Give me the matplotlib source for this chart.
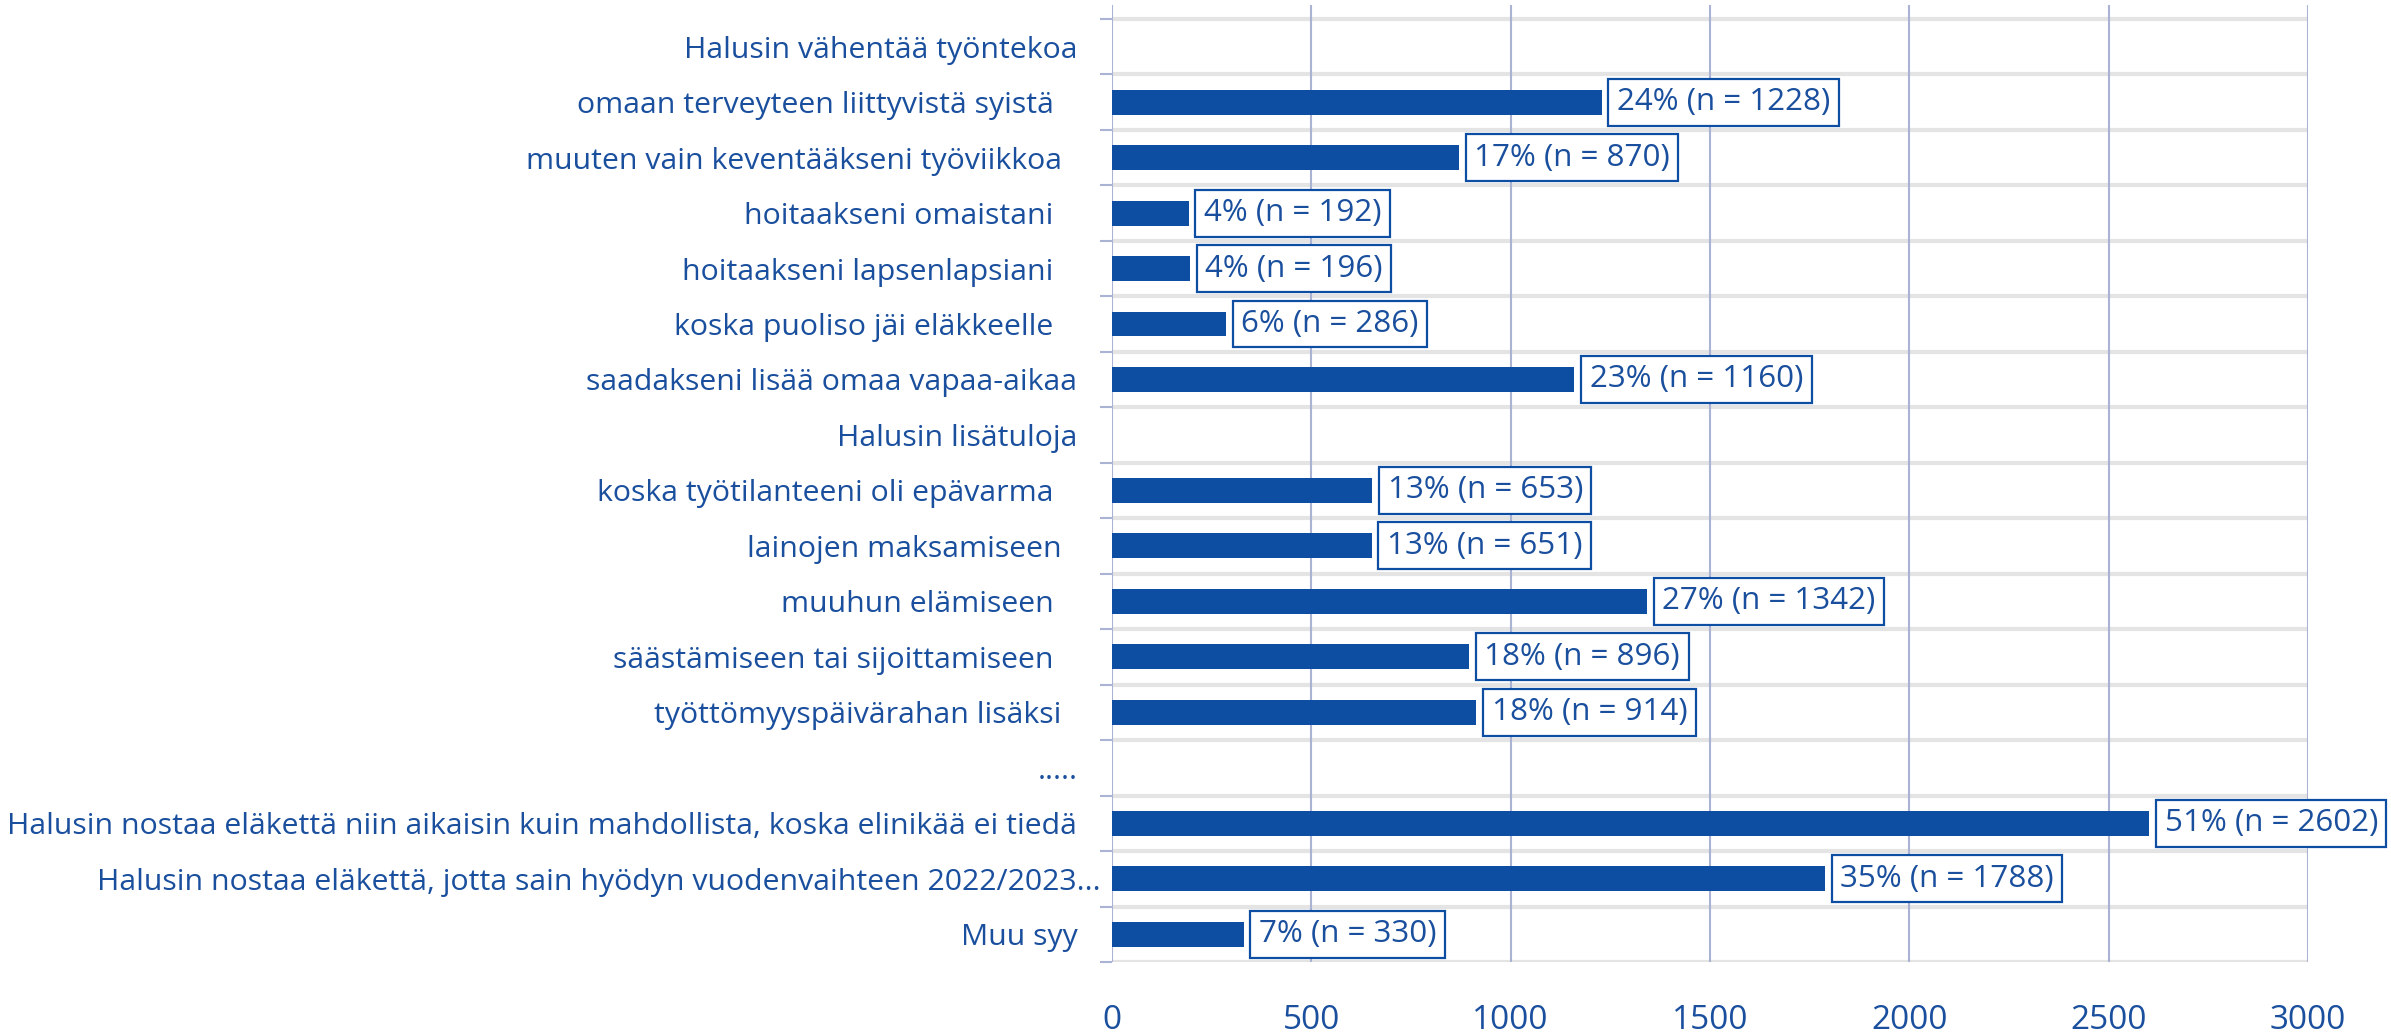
import numpy as np
import matplotlib.pyplot as plt
from matplotlib.transforms import ScaledTranslation

plt.rcParams['font.family'] = ['Open Sans', 'DejaVu Sans']

categories = [
    "Halusin vähentää työntekoa",
    "omaan terveyteen liittyvistä syistä   ",
    "muuten vain keventääkseni työviikkoa  ",
    "hoitaakseni omaistani   ",
    "hoitaakseni lapsenlapsiani   ",
    "koska puoliso jäi eläkkeelle   ",
    "saadakseni lisää omaa vapaa-aikaa",
    "Halusin lisätuloja",
    "koska työtilanteeni oli epävarma   ",
    "lainojen maksamiseen  ",
    "muuhun elämiseen   ",
    "säästämiseen tai sijoittamiseen   ",
    "työttömyyspäivärahan lisäksi  ",
    ".....",
    "Halusin nostaa eläkettä niin aikaisin kuin mahdollista, koska elinikää ei tiedä",
    "Halusin nostaa eläkettä, jotta sain hyödyn vuodenvaihteen 2022/2023...",
    "Muu syy",
]
counts = [None, 1228, 870, 192, 196, 286, 1160, None, 653, 651, 1342, 896, 914, None, 2602, 1788, 330]
percents = [None, 24, 17, 4, 4, 6, 23, None, 13, 13, 27, 18, 18, None, 51, 35, 7]
xticks = [0, 500, 1000, 1500, 2000, 2500, 3000]

bar_color = '#0d4ea3'
text_color = '#1a4f9e'
grid_color = '#aab3d3'
row_line = '#e4e4e4'

fig = plt.figure(figsize=(23.91, 10.32), dpi=100)
ax = fig.add_axes([1112/2391, 1 - 962/1032, (2308 - 1112)/2391, (962 - 5)/1032])

y = np.arange(len(categories))
vals = [c if c is not None else 0 for c in counts]
ax.barh(y, vals, height=0.45, color=bar_color, zorder=3)

for i, (c, p) in enumerate(zip(counts, percents)):
    if c is None:
        continue
    ax.annotate(f"{p}% (n = {c})", xy=(c, i), xytext=(11, 0), textcoords='offset points',
                ha='left', va='center', fontsize=22.6, color=text_color, zorder=5,
                bbox=dict(boxstyle='square,pad=0.27', fc='white', ec=bar_color, lw=1.6))

ax.set_xlim(0, 3000)
ax.set_ylim(len(categories) - 0.5, -0.75)

# row separators
for b in np.arange(len(categories) + 1) - 0.5:
    ax.plot([0, 3000], [b, b], color=row_line, lw=3, zorder=1, solid_capstyle='butt')
for xv in xticks:
    ax.axvline(xv, color=grid_color, lw=1.5, zorder=2)

ax.set_yticks(y)
ax.set_yticklabels(categories, fontsize=21.8, color=text_color)
ax.set_yticks(np.arange(len(categories) + 1) - 0.5, minor=True)
ax.tick_params(axis='y', which='major', length=0, pad=25)
ax.tick_params(axis='y', which='minor', length=9, width=1.5, color=grid_color)

# the truncated long label sits closer to the axis
lbl = ax.get_yticklabels()[15]
lbl.set_transform(lbl.get_transform() + ScaledTranslation(23/100, 0, fig.dpi_scale_trans))

ax.set_xticks(xticks)
ax.set_xticklabels([str(t) for t in xticks], fontsize=24, color=text_color)
ax.tick_params(axis='x', length=0, pad=30)

for s in ax.spines.values():
    s.set_visible(False)

fig.savefig('out.png', dpi=100)
